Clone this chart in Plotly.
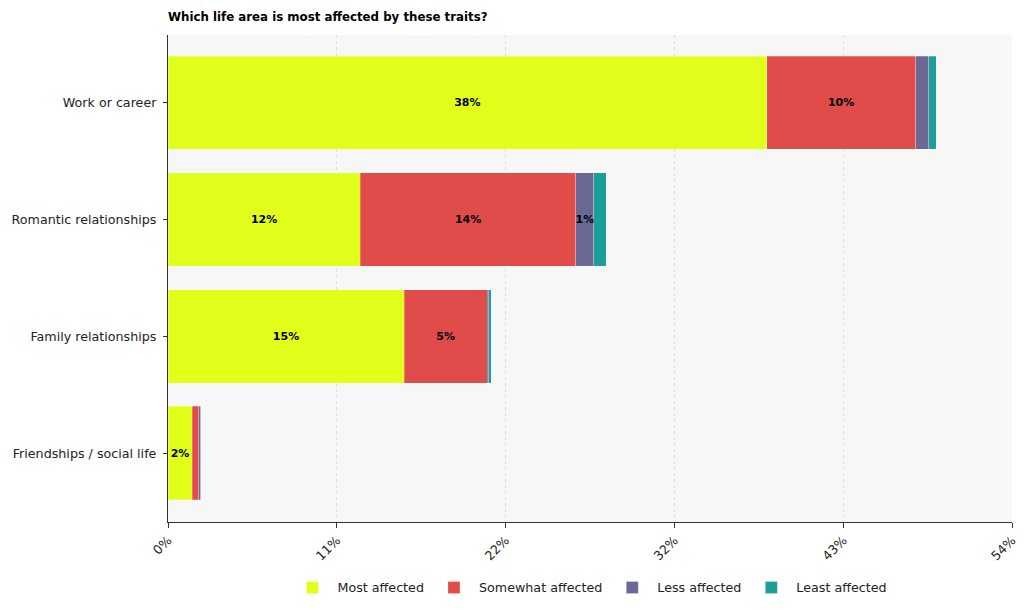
import plotly.graph_objects as go

categories = ["Work or career", "Romantic relationships", "Family relationships", "Friendships / social life"]
series_names = ["Most affected", "Somewhat affected", "Less affected", "Least affected"]
most_affected = [38.3, 12.3, 15.1, 1.54]
somewhat_affected = [9.53, 13.8, 5.33, 0.43]
less_affected = [0.83, 1.15, 0.09, 0.13]
least_affected = [0.5, 0.79, 0.15, 0.0]
colors = ["#e2ff1c", "#e04c4a", "#6a6895", "#1c9e9a"]
tick_vals = [0, 10.8, 21.6, 32.4, 43.2, 54.0]
tick_text = ["0%", "11%", "22%", "32%", "43%", "54%"]

fig = go.Figure()
for name, vals, col in zip(series_names,
                           [most_affected, somewhat_affected, less_affected, least_affected],
                           colors):
    txt = [f"{round(v)}%" if v >= 1 else "" for v in vals]
    fig.add_trace(go.Bar(
        y=categories, x=vals, name=name, orientation="h",
        marker=dict(color=col, line=dict(color="rgba(255,255,255,0.5)", width=0.5)),
        text=txt, textposition="inside", insidetextanchor="middle",
        textangle=0, constraintext="none",
        textfont=dict(family="DejaVu Sans", size=11, color="black", weight="bold"),
        hoverinfo="skip",
    ))

fig.update_layout(
    barmode="stack",
    bargap=0.2,
    width=1024, height=610,
    margin=dict(l=168, r=12, t=35, b=88, autoexpand=False),
    paper_bgcolor="white",
    plot_bgcolor="#f7f7f7",
    font=dict(family="DejaVu Sans", size=12.7, color="#222222"),
    title=dict(text="<b>Which life area is most affected by these traits?</b>",
               x=168/1024, xanchor="left", y=1 - 17/610, yanchor="middle",
               font=dict(family="DejaVu Sans", size=11.8, color="black")),
    legend=dict(orientation="h", x=0.5, xanchor="center", y=-0.135, yanchor="middle",
                font=dict(size=12.7, color="#222222"), traceorder="normal",
                itemwidth=40),
    xaxis=dict(range=[0, 54.0], tickvals=tick_vals, ticktext=tick_text, tickangle=-45,
               showgrid=True, gridcolor="#dedede", griddash="dot", gridwidth=1,
               showline=True, linecolor="#333333", linewidth=1, automargin=False,
               ticks="outside", ticklen=5, tickcolor="#333333", zeroline=False,
               tickfont=dict(size=12.7)),
    yaxis=dict(categoryorder="array", categoryarray=categories,
               range=[3.59, -0.58], showgrid=False, automargin=False,
               showline=True, linecolor="#333333", linewidth=1,
               ticks="outside", ticklen=4, tickcolor="#333333",
               tickfont=dict(size=12.7), ticksuffix=" "),
)

fig.write_html("out.html")
